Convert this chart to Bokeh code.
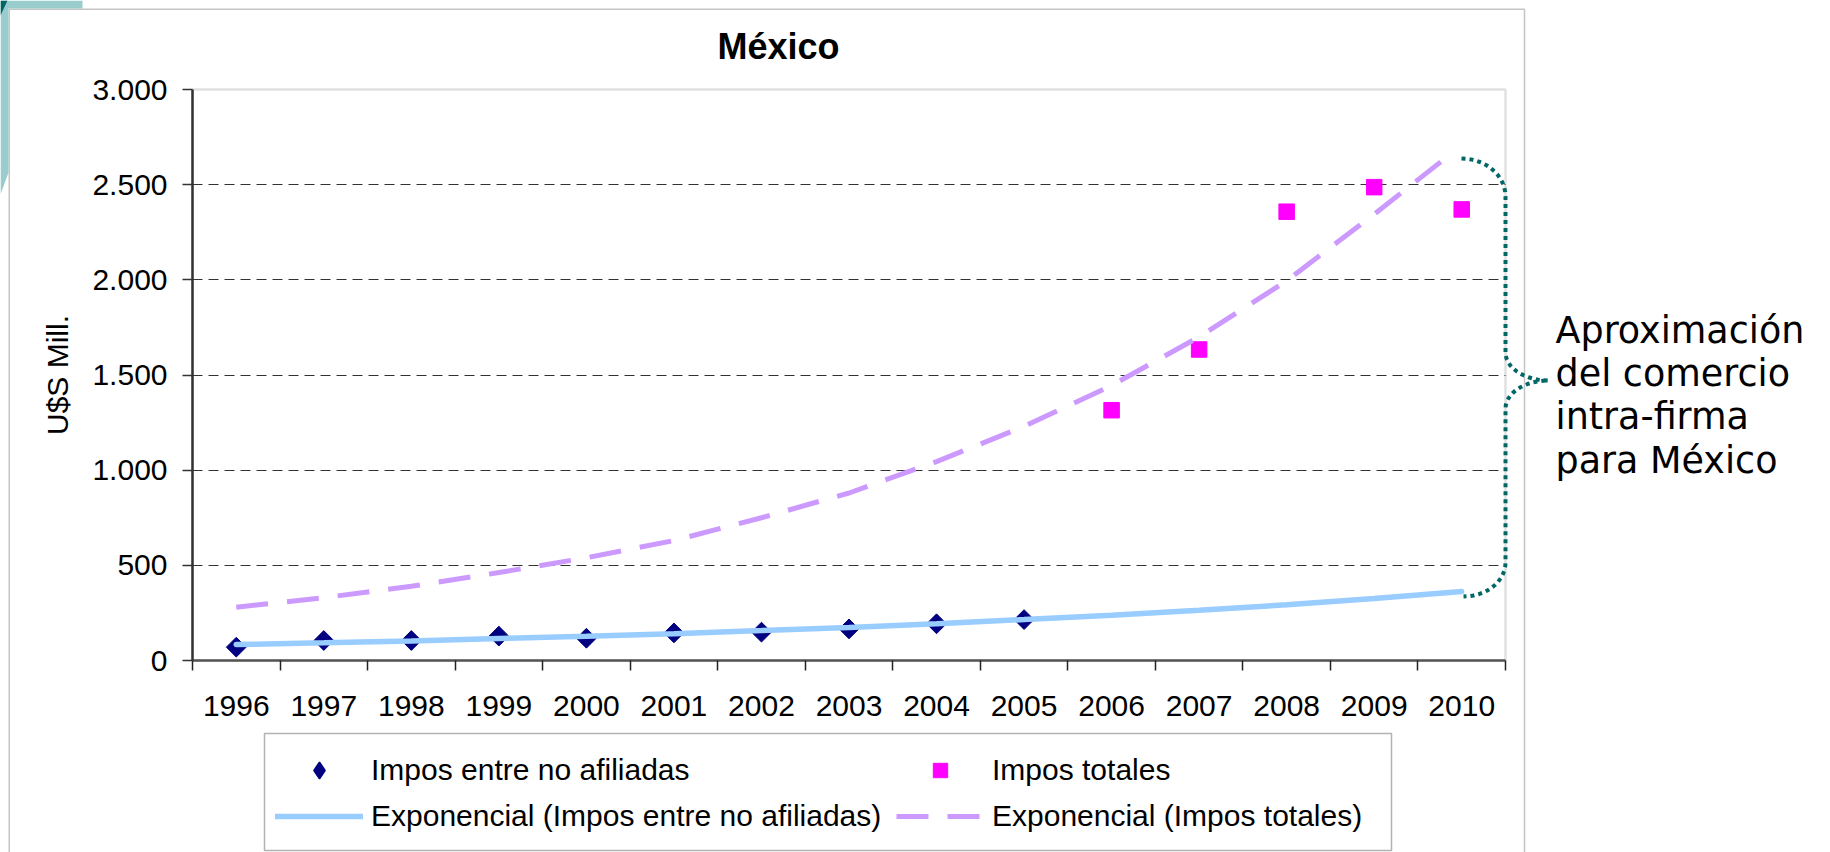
import numpy as np
from bokeh.plotting import figure
from bokeh.models import (Range1d, LinearAxis, FixedTicker, Grid, BoxAnnotation,
                          Label, Legend, LegendItem)
from bokeh.embed import file_html
from bokeh.resources import INLINE

# ---------------- data ----------------
years = [1996, 1997, 1998, 1999, 2000, 2001, 2002, 2003, 2004, 2005,
         2006, 2007, 2008, 2009, 2010]
year_labels = [str(y) for y in years]

afil_years = [1996, 1997, 1998, 1999, 2000, 2001, 2002, 2003, 2004, 2005]
afil_vals = [70, 105, 105, 128, 117, 145, 149, 166, 193, 215]

tot_years = [2006, 2007, 2008, 2009, 2010]
tot_vals = [1315, 1634, 2358, 2487, 2370]

trend_afil_vals = [84, 93, 103, 115, 127, 141, 157, 174, 193, 215,
                   238, 264, 293, 326, 362]

trend_tot_years = [1996, 1997, 1998, 1999, 2000, 2001, 2002, 2003, 2004,
                   2005, 2006, 2007, 2008, 2009, 2009.83]
trend_tot_vals = [280, 330, 390, 462, 540, 630, 750, 880, 1045,
                  1230, 1445, 1700, 1995, 2345, 2645]

y_ticks = [0, 500, 1000, 1500, 2000, 2500, 3000]
y_tick_labels = ["0", "500", "1.000", "1.500", "2.000", "2.500", "3.000"]

title_text = "México"
y_title = "U$S Mill."
legend_labels = ["Impos entre no afiliadas",
                 "Exponencial (Impos entre no afiliadas)",
                 "Impos totales",
                 "Exponencial (Impos totales)"]
note_lines = ["Aproximación", "del comercio", "intra-firma", "para México"]

# ---------------- layout geometry (page pixels, canvas at page origin) ----------------
W, H = 1830, 852
PX_LEFT, PX_RIGHT = 192, 1505
PY_ZERO, PY_TOP = 660, 89
ppx = (PX_RIGHT - PX_LEFT) / 15.0
ppy = (PY_ZERO - PY_TOP) / 3000.0
x_start = 1995.5 - PX_LEFT / ppx
x_end = x_start + W / ppx
y_start = -(H - PY_ZERO) / ppy
y_end = y_start + H / ppy


def X(px):
    return x_start + np.asarray(px, dtype=float) / ppx


def Y(py):
    return y_start + (H - np.asarray(py, dtype=float)) / ppy


FONT = "Liberation Sans"
FS = "30px"

p = figure(width=W, height=H, x_range=Range1d(x_start, x_end),
           y_range=Range1d(y_start, y_end), x_axis_type=None, y_axis_type=None,
           min_border=0, toolbar_location=None, output_backend="svg",
           outline_line_color=None, title=None,
           background_fill_color="white", border_fill_color="white")

# slide decoration in the top-left corner
p.patch(X([0, 82, 82, 8, 8, 0]), Y([0, 0, 8, 8, 172, 194]),
        fill_color="#99CCCC", line_color=None)
p.patch(X([0, 7, 0]), Y([0, 0, 15]), fill_color="#006666", line_color=None)

# outer chart frame
p.add_layout(BoxAnnotation(left=float(X(8.75)), right=float(X(1524)),
                           top=float(Y(8.75)), bottom=float(Y(1000)),
                           fill_color="white", fill_alpha=1.0,
                           line_color="#3a3a3a", line_width=1.5,
                           level="underlay"))

# plot-area border (gray)
p.add_layout(BoxAnnotation(left=1995.5, right=2010.5, bottom=0, top=3000,
                           fill_alpha=0, line_color="#9a9a9a", line_width=2.5,
                           level="underlay"))

# gridlines
grid_ticks = y_ticks[1:-1]
try:
    g = Grid(dimension=1, ticker=FixedTicker(ticks=grid_ticks),
             grid_line_color="#333333", grid_line_width=1.2,
             grid_line_dash="10 6", cross_bounds=(1995.5, 2010.5))
    p.add_layout(g)
except Exception:
    p.segment(x0=[1995.5] * len(grid_ticks), x1=[2010.5] * len(grid_ticks),
              y0=grid_ticks, y1=grid_ticks, line_color="#333333",
              line_width=1.2, line_dash="10 6")

# axes
xaxis = LinearAxis(fixed_location=0, bounds=(1995.5, 2010.5),
                   ticker=FixedTicker(ticks=years,
                                      minor_ticks=[y - 0.5 for y in years] + [2010.5]),
                   major_label_overrides={y: s for y, s in zip(years, year_labels)},
                   major_tick_out=0, major_tick_in=0, major_tick_line_color=None,
                   minor_tick_out=10, minor_tick_in=0,
                   minor_tick_line_color="#222222", minor_tick_line_width=1.5,
                   axis_line_color="#555555", axis_line_width=2.5,
                   major_label_text_font=FONT, major_label_text_font_size=FS,
                   major_label_text_color="black", major_label_standoff=25)
p.add_layout(xaxis, "below")

yaxis = LinearAxis(fixed_location=1995.5, bounds=(0, 3000),
                   ticker=FixedTicker(ticks=y_ticks),
                   major_label_overrides={v: s for v, s in zip(y_ticks, y_tick_labels)},
                   major_tick_out=10, major_tick_in=0,
                   major_tick_line_color="#333333", major_tick_line_width=1.5,
                   minor_tick_line_color=None,
                   axis_line_color="#333333", axis_line_width=2.5,
                   major_label_text_font=FONT, major_label_text_font_size=FS,
                   major_label_text_color="black", major_label_standoff=15,
                   axis_label=y_title, axis_label_text_font=FONT,
                   axis_label_text_font_size=FS, axis_label_text_font_style="normal",
                   axis_label_text_color="black", axis_label_standoff=15)
p.add_layout(yaxis, "left")

# data
r_afil = p.scatter(afil_years, afil_vals, marker="square", angle=np.pi / 4,
                   size=14, fill_color="#000080", line_color="#000080")
r_tot = p.scatter(tot_years, tot_vals, marker="square", size=15.5,
                  fill_color="#FF00FF", line_color="#FF00FF")
r_tr_afil = p.line(years, trend_afil_vals, line_color="#99CCFF", line_width=5.5,
                   line_cap="round")
r_tr_tot = p.line(trend_tot_years, trend_tot_vals, line_color="#CC99FF",
                  line_width=5, line_dash="32 19")
# legend swatch for the diamond series (draws nothing on the plot)
r_afil_key = p.scatter([np.nan], [np.nan], marker="diamond", size=12,
                       fill_color="#000080", line_color="#000080", line_width=1.5)

# legend frame
p.add_layout(BoxAnnotation(left=float(X(264)), right=float(X(1391)),
                           top=float(Y(733)), bottom=float(Y(850)),
                           fill_color="white", fill_alpha=1.0,
                           line_color="black", line_width=1.5))

common = dict(orientation="vertical", glyph_width=88, label_standoff=8,
              padding=8, margin=0, label_text_font=FONT, label_text_font_size=FS,
              label_text_color="black", border_line_color=None,
              background_fill_alpha=0)
legend_a = Legend(items=[LegendItem(label=legend_labels[0], renderers=[r_afil_key]),
                         LegendItem(label=legend_labels[1], renderers=[r_tr_afil])],
                  location=(275, 15), glyph_height=42, label_height=42, spacing=4,
                  **common)
legend_b = Legend(items=[LegendItem(label=legend_labels[2], renderers=[r_tot]),
                         LegendItem(label=legend_labels[3], renderers=[r_tr_tot])],
                  location=(896, 18), glyph_height=36, label_height=36, spacing=10,
                  **common)
p.add_layout(legend_a)
p.add_layout(legend_b)

# title
p.add_layout(Label(x=float(X(778)), y=float(Y(46)), text=title_text,
                   text_align="center", text_baseline="alphabetic",
                   text_font=FONT, text_font_style="bold", text_font_size="36px",
                   text_color="black"))

# brace (annotation)
def arc(cx, cy, rx, ry, t0, t1, n=14):
    t = np.linspace(t0, t1, n)
    return cx + rx * np.cos(t), cy + ry * np.sin(t)

segs = [arc(1461, 196, 44, 38, -np.pi / 2, 0),
        (np.array([1505, 1505]), np.array([196, 352])),
        arc(1548, 352, 43, 28, np.pi, np.pi / 2),
        arc(1548, 408, 43, 28, 1.5 * np.pi, np.pi),
        (np.array([1505, 1505]), np.array([408, 562])),
        arc(1463, 562, 42, 34, 0, np.pi / 2)]
bx = np.concatenate([s[0] for s in segs])
by = np.concatenate([s[1] for s in segs])
p.line(X(bx), Y(by), line_color="#006666", line_width=4, line_dash="4 4")

for i, line in enumerate(note_lines):
    p.add_layout(Label(x=float(X(1555)), y=float(Y(330 + 43.2 * i)), text=line,
                       text_align="left", text_baseline="alphabetic",
                       text_font="DejaVu Sans", text_font_size="36.5px",
                       text_color="black"))

open("out.html", "w").write(file_html(p, INLINE))
